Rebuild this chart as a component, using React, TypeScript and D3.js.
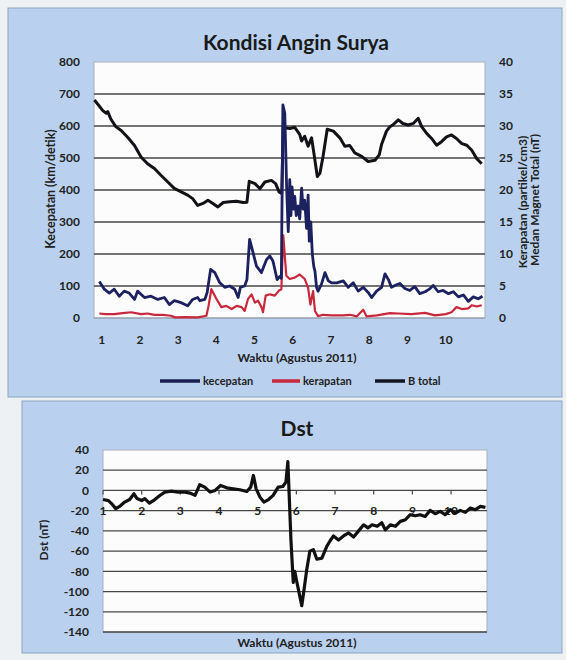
import React, { useRef, useEffect } from 'react';
import * as d3 from 'd3';

// ---- data (x = day of August 2011) ----
const dayTicks = [1, 2, 3, 4, 5, 6, 7, 8, 9, 10];
const speedTicks = [0, 100, 200, 300, 400, 500, 600, 700, 800];
const densityTicks = [0, 5, 10, 15, 20, 25, 30, 35, 40];
const dstTicks = [40, 20, 0, -20, -40, -60, -80, -100, -120, -140];

// kecepatan (km/detik), left axis
const kecepatan: [number, number][] = [
  [0.81, 681], [0.9, 668], [1.03, 648], [1.12, 640], [1.16, 645], [1.24, 622], [1.37, 598],
  [1.51, 586], [1.68, 565], [1.86, 539], [2.03, 503], [2.2, 482], [2.38, 467], [2.55, 446],
  [2.73, 425], [2.9, 405], [3.08, 394], [3.25, 384], [3.38, 373], [3.51, 352], [3.65, 358],
  [3.78, 368], [3.91, 358], [4.04, 347], [4.18, 361], [4.35, 363], [4.53, 365], [4.7, 361],
  [4.8, 362], [4.86, 427], [5.01, 420], [5.14, 404], [5.27, 425], [5.44, 430], [5.55, 420],
  [5.64, 394], [5.71, 389], [5.75, 595], [5.92, 592], [6.05, 596], [6.18, 574], [6.23, 553],
  [6.31, 568], [6.4, 537], [6.49, 563], [6.55, 516], [6.64, 442], [6.71, 453], [6.79, 505],
  [6.9, 590], [7.06, 584], [7.23, 563], [7.36, 537], [7.49, 539], [7.62, 516], [7.8, 505],
  [7.97, 489], [8.15, 493], [8.26, 510], [8.32, 542], [8.45, 584], [8.54, 598], [8.63, 605],
  [8.76, 619], [8.88, 608], [9.02, 603], [9.15, 608], [9.28, 624], [9.37, 598], [9.5, 577],
  [9.63, 561], [9.76, 540], [9.89, 551], [10.02, 566], [10.15, 572], [10.28, 561], [10.42, 545],
  [10.55, 540], [10.68, 524], [10.81, 498], [10.94, 482]
];

// kerapatan (partikel/cm3), right axis
const kerapatan: [number, number][] = [
  [0.94, 0.7], [1.1, 0.6], [1.33, 0.6], [1.55, 0.75], [1.77, 0.9], [2.03, 0.6], [2.2, 0.7],
  [2.38, 0.5], [2.6, 0.5], [2.81, 0.35], [2.92, 0.1], [3.2, 0.15], [3.51, 0.1], [3.74, 0.35],
  [3.79, 1.7], [3.87, 4.5], [4.0, 3.0], [4.13, 1.7], [4.26, 1.9], [4.4, 1.4], [4.53, 1.9],
  [4.66, 1.7], [4.74, 1.1], [4.83, 3.0], [4.92, 3.7], [5.01, 2.4], [5.09, 2.7], [5.18, 1.7],
  [5.22, 0.9], [5.29, 3.5], [5.4, 3.7], [5.53, 3.5], [5.64, 4.3], [5.7, 4.5], [5.75, 12.9],
  [5.83, 6.6], [5.92, 6.1], [6.05, 6.3], [6.18, 6.8], [6.31, 6.1], [6.4, 4.7], [6.46, 2.1],
  [6.53, 4.2], [6.58, 1.1], [6.66, 0.3], [6.79, 0.5], [7.0, 0.4], [7.32, 0.4], [7.5, 0.5],
  [7.67, 0.25], [7.84, 1.3], [7.93, 0.25], [8.2, 0.4], [8.54, 0.75], [8.76, 0.7], [9.1, 0.6],
  [9.46, 0.8], [9.72, 0.4], [10.0, 0.6], [10.15, 0.9], [10.28, 1.7], [10.42, 1.4], [10.59, 1.5],
  [10.68, 2.0], [10.81, 1.8], [10.94, 2.0]
];

// B total (nT), right axis
const bTotal: [number, number][] = [
  [0.94, 5.7], [1.07, 4.5], [1.2, 3.9], [1.33, 4.5], [1.46, 3.4], [1.59, 4.2], [1.72, 3.9],
  [1.86, 2.9], [1.94, 4.2], [2.12, 3.2], [2.29, 3.4], [2.47, 2.9], [2.64, 3.2], [2.77, 2.1],
  [2.9, 2.7], [3.08, 2.4], [3.25, 1.9], [3.38, 2.9], [3.51, 3.2], [3.57, 2.7], [3.7, 2.9],
  [3.76, 4.0], [3.85, 7.6], [3.96, 7.1], [4.09, 5.5], [4.22, 4.8], [4.35, 5.0], [4.48, 4.5],
  [4.57, 3.2], [4.63, 4.8], [4.74, 5.0], [4.8, 6.0], [4.87, 12.3], [4.96, 10.2], [5.05, 8.1],
  [5.18, 7.1], [5.31, 9.1], [5.4, 9.7], [5.48, 8.9], [5.59, 6.0], [5.66, 6.5], [5.7, 6.2],
  [5.74, 33.3], [5.79, 32], [5.84, 20], [5.88, 13.5], [5.92, 21.6], [5.95, 16], [5.98, 20.5],
  [6.02, 17], [6.05, 19], [6.09, 16], [6.14, 17.5], [6.18, 15.5], [6.23, 20.3], [6.27, 17],
  [6.31, 18.4], [6.36, 14], [6.4, 19.2], [6.43, 12], [6.47, 15], [6.51, 10], [6.55, 8],
  [6.58, 7.3], [6.62, 4.8], [6.66, 4.2], [6.75, 5.3], [6.84, 7.1], [6.93, 5.8], [7.01, 5.5],
  [7.15, 5.5], [7.32, 5.8], [7.45, 4.8], [7.58, 5.5], [7.71, 4.2], [7.84, 4.8], [7.97, 4.0],
  [8.06, 3.2], [8.19, 4.2], [8.32, 4.8], [8.41, 6.9], [8.5, 6.0], [8.58, 4.8], [8.71, 5.2],
  [8.8, 5.4], [8.93, 4.6], [9.06, 4.3], [9.19, 4.9], [9.32, 3.8], [9.46, 4.1], [9.59, 4.6],
  [9.67, 5.1], [9.8, 4.1], [9.93, 4.3], [10.07, 3.8], [10.2, 4.1], [10.33, 3.3], [10.46, 3.6],
  [10.59, 2.6], [10.72, 3.3], [10.85, 3.0], [10.96, 3.4]
];

// Dst (nT)
const dst: [number, number][] = [
  [1.0, -9], [1.14, -10], [1.22, -13], [1.33, -18], [1.43, -15.8], [1.56, -11.5], [1.69, -9],
  [1.8, -3.3], [1.88, -8], [2.0, -10], [2.08, -8], [2.2, -12.5], [2.34, -9], [2.47, -5],
  [2.6, -1.6], [2.77, -0.7], [2.94, -1.6], [3.12, -1.6], [3.25, -2.6], [3.38, -4.9], [3.5, 5.6],
  [3.63, 3.3], [3.77, -1.6], [3.9, 0], [4.04, 4.9], [4.2, 2.6], [4.37, 1.6], [4.54, 0.7],
  [4.72, -1], [4.82, 3.3], [4.89, 14.8], [4.96, 1.6], [5.06, -6.6], [5.16, -11.5], [5.28, -9],
  [5.4, -4.9], [5.53, 3.3], [5.65, 3.9], [5.73, 8.2], [5.78, 28.5], [5.8, 10], [5.86, -49],
  [5.92, -91], [5.96, -80], [6.01, -90], [6.07, -101], [6.14, -114], [6.21, -95], [6.27, -78],
  [6.35, -60], [6.44, -58.5], [6.53, -68], [6.66, -67], [6.79, -55], [6.87, -50], [6.96, -45],
  [7.09, -49], [7.22, -45], [7.35, -42], [7.48, -46], [7.61, -40], [7.74, -34], [7.85, -37],
  [7.96, -34], [8.09, -35.5], [8.21, -32], [8.3, -39], [8.43, -34], [8.56, -35.5], [8.69, -30.6],
  [8.82, -29], [8.94, -24], [9.07, -25], [9.2, -24], [9.33, -25.7], [9.46, -19.7], [9.59, -23],
  [9.72, -20.7], [9.85, -24], [9.98, -19], [10.11, -22.4], [10.24, -19.7], [10.37, -21.7],
  [10.5, -17.4], [10.63, -19], [10.76, -15.8], [10.89, -16.8]
];

const FONT = "Lato, 'Open Sans', sans-serif";
const PANEL = "#b9d1ee";
const GRID = "#474747";

const App = () => {
  const svgRef = useRef<SVGSVGElement>(null);

  useEffect(() => {
    const svg = d3.select(svgRef.current);
    svg.selectAll("*").remove();

    // backgrounds
    svg.append("rect").attr("width", 566).attr("height", 660).attr("fill", "#eef1f4");
    svg.append("rect").attr("x", 8).attr("y", 8).attr("width", 554).attr("height", 389)
      .attr("fill", PANEL).attr("stroke", "#8ea5c2");
    svg.append("rect").attr("x", 22).attr("y", 401).attr("width", 540).attr("height", 252)
      .attr("fill", PANEL).attr("stroke", "#8ea5c2");

    // ---------- top chart ----------
    const x = d3.scaleLinear().domain([0.8, 11.0]).range([94, 484]);
    const yL = d3.scaleLinear().domain([0, 800]).range([318, 62]);
    const yR = d3.scaleLinear().domain([0, 40]).range([318, 62]);

    const top = svg.append("g");
    top.append("rect").attr("x", 94).attr("y", yL(800)).attr("width", 391).attr("height", yL(0) - yL(800))
      .attr("fill", "#fcfcfc").attr("stroke", "#a9b2bc");

    top.selectAll(".grid").data(speedTicks.filter(d => d > 0 && d < 800)).enter()
      .append("line")
      .attr("x1", 94).attr("x2", 485)
      .attr("y1", d => yL(d)).attr("y2", d => yL(d))
      .attr("stroke", GRID).attr("stroke-width", 1.3);
    top.append("line").attr("x1", 94).attr("x2", 485).attr("y1", yL(0)).attr("y2", yL(0))
      .attr("stroke", "#8a96a4").attr("stroke-width", 1.2);

    top.selectAll(".yl").data(speedTicks).enter().append("text")
      .attr("x", 80).attr("y", d => yL(d)).attr("dy", "0.35em")
      .attr("text-anchor", "end").attr("font-size", 12).attr("font-weight", 700)
      .attr("font-family", FONT).attr("fill", "#222").text(d => d);
    top.selectAll(".yr").data(densityTicks).enter().append("text")
      .attr("x", 499).attr("y", d => yR(d)).attr("dy", "0.35em")
      .attr("text-anchor", "start").attr("font-size", 12).attr("font-weight", 700)
      .attr("font-family", FONT).attr("fill", "#222").text(d => d);
    top.selectAll(".xt").data(dayTicks).enter().append("text")
      .attr("x", d => x(d)).attr("y", 344)
      .attr("text-anchor", "middle").attr("font-size", 12).attr("font-weight", 700)
      .attr("font-family", FONT).attr("fill", "#222").text(d => d);

    const lineL = d3.line<[number, number]>().x(d => x(d[0])).y(d => yL(d[1]));
    const lineR = d3.line<[number, number]>().x(d => x(d[0])).y(d => yR(d[1]));

    top.append("path").datum(kecepatan).attr("d", lineL).attr("fill", "none")
      .attr("stroke", "#121218").attr("stroke-width", 3).attr("stroke-linejoin", "round");
    top.append("path").datum(kerapatan).attr("d", lineR).attr("fill", "none")
      .attr("stroke", "#c8283c").attr("stroke-width", 2.2).attr("stroke-linejoin", "round");
    top.append("path").datum(bTotal).attr("d", lineR).attr("fill", "none")
      .attr("stroke", "#1c2160").attr("stroke-width", 2.8).attr("stroke-linejoin", "round");

    top.append("text").attr("x", 296).attr("y", 50).attr("text-anchor", "middle")
      .attr("font-size", 21).attr("font-weight", 700).attr("font-family", FONT)
      .attr("fill", "#1a1a1a").text("Kondisi Angin Surya");
    top.append("text").attr("x", 297).attr("y", 362).attr("text-anchor", "middle")
      .attr("font-size", 12).attr("font-weight", 700).attr("font-family", FONT)
      .attr("fill", "#222").text("Waktu (Agustus 2011)");

    const rotTitle = (g: any, tx: number, ty: number, label: string, size = 12.5) =>
      g.append("text").attr("transform", `translate(${tx},${ty}) rotate(-90)`)
        .attr("text-anchor", "middle").attr("font-size", size).attr("font-weight", 700)
        .attr("font-family", FONT).attr("fill", "#222").text(label);
    rotTitle(top, 55, 189, "Kecepatan (km/detik)");
    rotTitle(top, 527, 202, "Kerapatan (partikel/cm3)", 12);
    rotTitle(top, 539, 200, "Medan Magnet Total (nT)", 12);

    // legend
    const legend = [
      { label: "kecepatan", color: "#1b1e50", x1: 160, x2: 200 },
      { label: "kerapatan", color: "#c8283c", x1: 272, x2: 300 },
      { label: "B total", color: "#141420", x1: 375, x2: 405 }
    ];
    legend.forEach(l => {
      top.append("line").attr("x1", l.x1).attr("x2", l.x2).attr("y1", 381).attr("y2", 381)
        .attr("stroke", l.color).attr("stroke-width", 3.5);
      top.append("text").attr("x", l.x2 + 3).attr("y", 381).attr("dy", "0.35em")
        .attr("font-size", 11).attr("font-weight", 700).attr("font-family", FONT)
        .attr("fill", "#222").text(l.label);
    });

    // ---------- Dst chart ----------
    const xb = d3.scaleLinear().domain([1, 10.93]).range([103, 487]);
    const yb = d3.scaleLinear().domain([-140, 40]).range([632, 450]);
    const bot = svg.append("g");

    bot.append("rect").attr("x", 103).attr("y", yb(40)).attr("width", 384).attr("height", yb(-140) - yb(40))
      .attr("fill", "#fcfcfc").attr("stroke", "#a9b2bc");
    bot.selectAll(".grid").data(dstTicks.filter(d => d < 40)).enter().append("line")
      .attr("x1", 103).attr("x2", 487)
      .attr("y1", d => yb(d)).attr("y2", d => yb(d))
      .attr("stroke", GRID).attr("stroke-width", 1.3);
    bot.selectAll(".tick").data(dayTicks).enter().append("line")
      .attr("x1", d => xb(d)).attr("x2", d => xb(d))
      .attr("y1", yb(0)).attr("y2", yb(0) + 4)
      .attr("stroke", GRID).attr("stroke-width", 1.2);

    bot.selectAll(".yl").data(dstTicks).enter().append("text")
      .attr("x", 89).attr("y", d => yb(d)).attr("dy", "0.35em")
      .attr("text-anchor", "end").attr("font-size", 12).attr("font-weight", 700)
      .attr("font-family", FONT).attr("fill", "#222").text(d => d);
    bot.selectAll(".xt").data(dayTicks).enter().append("text")
      .attr("x", d => xb(d)).attr("y", yb(-20)).attr("dy", "0.35em")
      .attr("text-anchor", "middle").attr("font-size", 12).attr("font-weight", 700)
      .attr("font-family", FONT).attr("fill", "#222").text(d => d);

    const lineD = d3.line<[number, number]>().x(d => xb(d[0])).y(d => yb(d[1]));
    bot.append("path").datum(dst).attr("d", lineD).attr("fill", "none")
      .attr("stroke", "#111").attr("stroke-width", 3.2).attr("stroke-linejoin", "round");

    bot.append("text").attr("x", 297).attr("y", 436).attr("text-anchor", "middle")
      .attr("font-size", 21).attr("font-weight", 700).attr("font-family", FONT)
      .attr("fill", "#1a1a1a").text("Dst");
    bot.append("text").attr("x", 297).attr("y", 647).attr("text-anchor", "middle")
      .attr("font-size", 12).attr("font-weight", 700).attr("font-family", FONT)
      .attr("fill", "#222").text("Waktu (Agustus 2011)");
    rotTitle(bot, 48, 540, "Dst (nT)", 12);
  }, []);

  return (
    <svg ref={svgRef} width={566} height={660}
      style={{ position: "absolute", left: 0, top: 0 }} />
  );
};

export default App;
